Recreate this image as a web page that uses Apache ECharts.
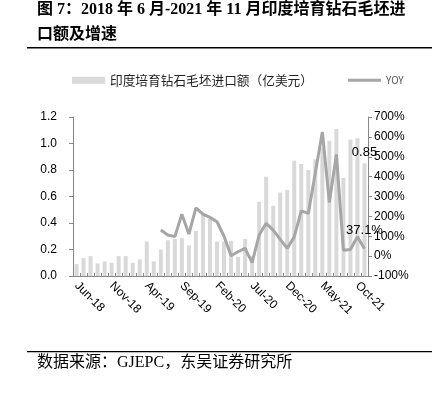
<!DOCTYPE html>
<html><head><meta charset="utf-8">
<script src="https://cdn.jsdelivr.net/npm/echarts@6/dist/echarts.min.js"></script>
<style>html,body{margin:0;padding:0;background:#fff}#c{width:438px;height:393px}</style>
</head><body><div id="c"></div>
<script>
const categories = ['Jun-18','Jul-18','Aug-18','Sep-18','Oct-18','Nov-18','Dec-18','Jan-19','Feb-19','Mar-19','Apr-19','May-19','Jun-19','Jul-19','Aug-19','Sep-19','Oct-19','Nov-19','Dec-19','Jan-20','Feb-20','Mar-20','Apr-20','May-20','Jun-20','Jul-20','Aug-20','Sep-20','Oct-20','Nov-20','Dec-20','Jan-21','Feb-21','Mar-21','Apr-21','May-21','Jun-21','Jul-21','Aug-21','Sep-21','Oct-21','Nov-21'];
const importValues = [0.09,0.135,0.15,0.095,0.11,0.10,0.15,0.15,0.10,0.125,0.26,0.11,0.20,0.27,0.28,0.285,0.23,0.34,0.47,0.43,0.26,0.26,0.265,0.145,0.28,0.15,0.56,0.75,0.53,0.63,0.65,0.87,0.845,0.80,0.88,0.97,1.02,1.11,0.74,1.03,1.04,0.85];
const yoyValues = [null,null,null,null,null,null,null,null,null,null,null,null,131,106,98,211,111,243,211,195,173,100,2,22,39,-33,106,165,131,84,39,98,228,215,420,625,270,512,30,33,98,37.1];
const leftTicks = [0,0.2,0.4,0.6,0.8,1.0,1.2];
const barName = '印度培育钻石毛坯进口额（亿美元）';
const lineName = 'YOY';
const sourceText = '数据来源：GJEPC，东吴证券研究所';

const chart = echarts.init(document.getElementById('c'));
const lastIdx = categories.length - 1;
const lblFont = {color:'#000',fontSize:13,fontFamily:'Liberation Sans'};
const barData = importValues.map((v,i)=> i===lastIdx ? {value:v,label:Object.assign({show:true,position:'top',distance:4,formatter:'{c}'},lblFont)} : v);
const lineData = yoyValues.map((v,i)=> i===lastIdx ? {value:v,label:Object.assign({show:true,position:'top',distance:12,formatter:p=>p.value+'%'},lblFont)} : v);
const axisFont = {color:'#000',fontSize:12,fontFamily:'Liberation Sans'};
chart.setOption({
  animation:false,
  grid:{left:73,right:70,top:117,bottom:117},
  legend:{left:67,top:69,itemGap:35,itemWidth:33,itemHeight:7,
    textStyle:{color:'#222',fontSize:12.7,fontFamily:'Noto Sans CJK SC'},
    data:[{name:barName,icon:'rect'},{name:lineName,icon:'path://M0,0 L33,0 L33,3 L0,3 Z',textStyle:{fontSize:10,color:'#555'}}]},
  graphic:[
    {type:'text',left:37,top:2,style:{text:'图 7：2018 年 6 月-2021 年 11 月印度培育钻石毛坯进',font:'bold 16px "Liberation Serif","Noto Sans CJK SC"',fill:'#000'}},
    {type:'text',left:37,top:27,style:{text:'口额及增速',font:'bold 16px "Liberation Serif","Noto Sans CJK SC"',fill:'#000'}},
    {type:'rect',shape:{x:27,y:47,width:405,height:1.5},style:{fill:'#000'}},
    {type:'rect',shape:{x:27,y:351,width:405,height:1.2},style:{fill:'#000'}},
    {type:'text',left:37,top:355,style:{text:sourceText,font:'16px "Liberation Serif","Noto Sans CJK SC"',fill:'#000'}}
  ],
  xAxis:{type:'category',data:categories,boundaryGap:true,
    axisLine:{lineStyle:{color:'#888'}},
    axisTick:{show:true,inside:true,length:3,interval:0,lineStyle:{color:'#888'}},
    axisLabel:Object.assign({interval:4,rotate:-45,margin:8},axisFont)},
  yAxis:[
    {type:'value',min:0,max:1.2,interval:0.2,splitLine:{show:false},
     axisLine:{show:true,lineStyle:{color:'#888'}},axisTick:{show:true,length:4,lineStyle:{color:'#888'}},
     axisLabel:Object.assign({formatter:v=>v.toFixed(1),margin:16},axisFont)},
    {type:'value',min:-100,max:700,interval:100,splitLine:{show:false},
     axisLine:{show:true,lineStyle:{color:'#888'}},axisTick:{show:true,length:4,lineStyle:{color:'#888'}},
     axisLabel:Object.assign({formatter:'{value}%',margin:6},axisFont)}
  ],
  series:[
    {name:barName,type:'bar',yAxisIndex:0,data:barData,barWidth:4,itemStyle:{color:'#d9d9d9'}},
    {name:lineName,type:'line',yAxisIndex:1,data:lineData,symbol:'circle',symbolSize:0,showSymbol:true,connectNulls:false,
     lineStyle:{color:'#a6a6a6',width:3},itemStyle:{color:'#a6a6a6'}}
  ]
});
</script></body></html>
